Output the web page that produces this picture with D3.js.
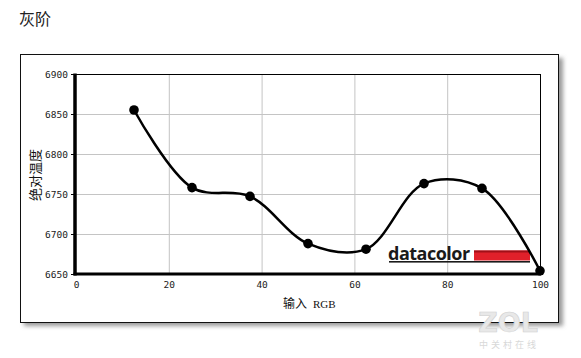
<!DOCTYPE html>
<html><head><meta charset="utf-8">
<script src="https://cdn.jsdelivr.net/npm/d3@7"></script>
<style>body{margin:0;background:#fff}svg{display:block}</style>
</head><body><svg id="c" width="581" height="358"></svg>
<script>
const inputs = [12.5, 25, 37.5, 50, 62.5, 75, 87.5, 100];
const cct = [6855, 6758, 6747, 6688, 6681, 6763, 6757, 6654];
const xTicks = [0, 20, 40, 60, 80, 100];
const yTicks = [6650, 6700, 6750, 6800, 6850, 6900];
const title = "灰阶";
const xLabel = "输入";
const xLabelUnit = "RGB";
const yLabel = "绝对温度";

const svg = d3.select("#c");
const mono = "'DejaVu Sans Mono', monospace";
const cjk = "'Noto Sans CJK SC', sans-serif";

// title
svg.append("text").attr("x", 19).attr("y", 25).attr("font-family", cjk)
  .attr("font-size", 16).attr("fill", "#222").text(title);

// shadow + frame
const defs = svg.append("defs");
defs.append("filter").attr("id", "blur").append("feGaussianBlur").attr("stdDeviation", 2);
svg.append("rect").attr("x", 24).attr("y", 58).attr("width", 539).attr("height", 268)
  .attr("fill", "#9a9a9a").attr("filter", "url(#blur)");
svg.append("rect").attr("x", 20.5).attr("y", 54.5).attr("width", 538).attr("height", 268)
  .attr("fill", "#fff").attr("stroke", "#111").attr("stroke-width", 1);

const x = d3.scaleLinear().domain([0, 100]).range([76, 540]);
const y = d3.scaleLinear().domain([6650, 6900]).range([274, 74]);

// grid
const g = svg.append("g");
g.selectAll(".vg").data(xTicks.slice(1, -1)).join("line")
  .attr("x1", d => x(d) + 0.5).attr("x2", d => x(d) + 0.5)
  .attr("y1", y(6900)).attr("y2", y(6650)).attr("stroke", "#c4c4c4").attr("stroke-width", 1);
g.selectAll(".hg").data(yTicks.slice(1, -1)).join("line")
  .attr("y1", d => y(d) + 0.5).attr("y2", d => y(d) + 0.5)
  .attr("x1", x(0)).attr("x2", x(100)).attr("stroke", "#c4c4c4").attr("stroke-width", 1);

// top and right thin border
svg.append("line").attr("x1", x(0)).attr("x2", x(100) + 0.5).attr("y1", y(6900) + 0.5).attr("y2", y(6900) + 0.5)
  .attr("stroke", "#000").attr("stroke-width", 1);
svg.append("line").attr("x1", x(100) + 0.5).attr("x2", x(100) + 0.5).attr("y1", y(6900)).attr("y2", y(6650))
  .attr("stroke", "#000").attr("stroke-width", 1);

// axes
const yAxis = d3.axisLeft(y).tickValues(yTicks).tickFormat(d3.format("d")).tickSize(4).tickPadding(3);
const ya = svg.append("g").attr("transform", `translate(${x(0) - 1},0)`).call(yAxis);
ya.select(".domain").remove();
ya.selectAll("line").attr("stroke", "#000");
ya.selectAll("text").attr("font-family", mono).attr("font-size", 9.5).attr("fill", "#222");

const xAxis = d3.axisBottom(x).tickValues(xTicks).tickFormat(d3.format("d")).tickSize(0).tickPadding(7);
const xa = svg.append("g").attr("transform", `translate(0,${y(6650)})`).call(xAxis);
xa.select(".domain").remove();
xa.selectAll("text").attr("font-family", mono).attr("font-size", 9.5).attr("fill", "#222");

svg.append("line").attr("x1", x(0) - 1).attr("x2", x(0) - 1).attr("y1", y(6900) - 0.5).attr("y2", y(6650) + 1.5)
  .attr("stroke", "#000").attr("stroke-width", 3.5);
svg.append("line").attr("x1", x(0) - 2.5).attr("x2", x(100) + 1).attr("y1", y(6650)).attr("y2", y(6650))
  .attr("stroke", "#000").attr("stroke-width", 3);

// axis labels
const xl = svg.append("text").attr("x", 283).attr("y", 308)
  .attr("font-family", cjk).attr("font-size", 12).attr("fill", "#111");
xl.append("tspan").text(xLabel);
xl.append("tspan").attr("dx", 6).attr("font-family", "'Liberation Serif', serif").attr("font-size", 11).text(xLabelUnit);
svg.append("text").attr("transform", "translate(40,175) rotate(-90)").attr("text-anchor", "middle")
  .attr("font-family", cjk).attr("font-size", 13).attr("fill", "#111").text(yLabel);

// datacolor logo
const logo = svg.append("g");
logo.append("rect").attr("x", 474).attr("y", 250.5).attr("width", 56).attr("height", 10).attr("fill", "#e0202a");
logo.append("rect").attr("x", 474).attr("y", 250.5).attr("width", 56).attr("height", 2).attr("fill", "#a01018");
logo.append("text").attr("x", 388).attr("y", 260).attr("font-family", "'Open Sans', sans-serif")
  .attr("font-weight", 700).attr("font-size", 18).attr("letter-spacing", -0.5).attr("fill", "#1a1a1a").text("datacolor");
logo.append("rect").attr("x", 389).attr("y", 261).attr("width", 141).attr("height", 1.6).attr("fill", "#1a1a1a");

// curve
const pts = inputs.map((d, i) => [x(d), y(cct[i])]);
svg.append("path").attr("d", d3.line().curve(d3.curveCatmullRom.alpha(0.5))(pts))
  .attr("fill", "none").attr("stroke", "#000").attr("stroke-width", 2.5);
svg.selectAll(".pt").data(inputs).join("circle")
  .attr("cx", d => x(d)).attr("cy", (d, i) => y(cct[i])).attr("r", 4.8).attr("fill", "#000");

// watermark
svg.append("text").attr("x", 508).attr("y", 332).attr("text-anchor", "middle")
  .attr("font-family", "'DejaVu Sans', sans-serif").attr("font-weight", 700).attr("font-size", 27)
  .attr("fill", "#e8e8e8").attr("stroke", "#d0d0d0").attr("stroke-width", 0.6).text("ZOL");
svg.append("text").attr("x", 509).attr("y", 348).attr("text-anchor", "middle")
  .attr("font-family", cjk).attr("font-size", 9).attr("letter-spacing", 3).attr("fill", "#d8d8d8").text("中关村在线");
</script></body></html>
